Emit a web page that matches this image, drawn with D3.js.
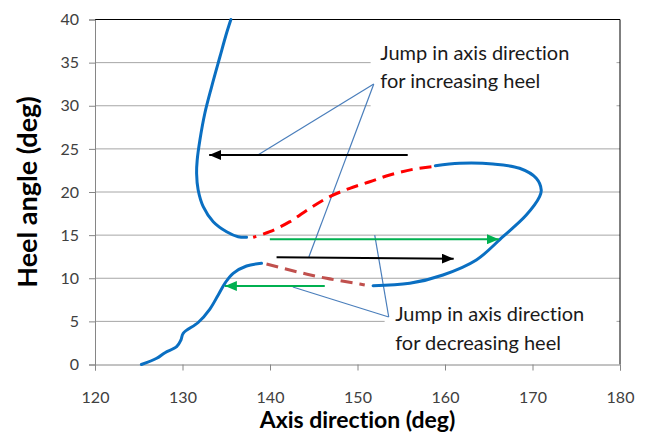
<!DOCTYPE html>
<html><head><meta charset="utf-8">
<script src="https://cdn.jsdelivr.net/npm/d3@7"></script>
<style>body{margin:0;background:#fff}svg{display:block}text{font-variant-ligatures:none;font-feature-settings:"liga" 0,"clig" 0}</style>
</head><body><svg id="chart" width="646" height="437"></svg>
<script>
// Axis ticks
const xTicks = [120, 130, 140, 150, 160, 170, 180];
const yTicks = [0, 5, 10, 15, 20, 25, 30, 35, 40];

// Equilibrium path [axis direction, heel angle], split into stable / unstable branches
const stableLow = [[125.3,0],[127.05,0.72],[128.0,1.37],[129.33,2.06],[129.82,2.84],[130.08,3.62],[131.79,4.87],[133.13,6.43],[134.1,8.1],[134.9,9.5],[135.79,10.57],[137.32,11.42],[139.03,11.73]];
const unstableLow = [[139.6,11.65],[143.03,10.76],[146.46,9.99],[150.26,9.33],[150.83,9.22]];
const stableLoop = [[151.78,9.14],[155.97,9.41],[159.77,10.38],[163.58,12.12],[166.62,14.82],[169.29,17.33],[170.81,19.46],[171.0,20.23],[170.43,21.59],[168.52,22.75],[165.48,23.25],[161.68,23.33],[158.9,23.05]];
const unstableHigh = [[158.45,22.93],[156.34,22.63],[153.68,21.97],[151.4,21.19],[149.12,20.43],[146.83,19.46],[144.55,18.11],[142.27,16.56],[139.98,15.4],[138.07,14.75]];
const stableHigh = [[137.32,14.75],[136.36,14.82],[135.04,15.4],[133.51,16.56],[132.37,18.3],[131.79,20.23],[131.61,22.17],[131.68,23.71],[131.99,26.03],[132.56,29.16],[133.32,32.17],[134.27,35.65],[135.04,38.43],[135.53,40]];

// Jumps in axis direction [start, end]
const jumpUpA = [[155.74,24.29],[133.05,24.29]];
const jumpUpB = [[140.75,12.43],[160.99,12.27]];
const jumpDownA = [[139.98,14.52],[166.16,14.52]];
const jumpDownB = [[146.26,9.10],[134.84,9.10]];

// Callout leaders [apex, target]
const calloutIncreasing = [[[151.86,32.52],[138.61,24.29]],[[151.86,32.52],[144.44,12.46]]];
const calloutDecreasing = [[[153.57,5.51],[142.61,8.99]],[[153.57,5.51],[151.97,15.01]]];

// Annotation text
const labelIncreasing = ["Jump in axis direction", "for increasing heel"];
const labelDecreasing = ["Jump in axis direction", "for decreasing heel"];

const svg = d3.select("#chart");
const m = {left: 95, top: 19.5, right: 620, bottom: 364.5};
const x = d3.scaleLinear().domain([120, 180]).range([m.left, m.right]);
const y = d3.scaleLinear().domain([0, 40]).range([m.bottom, m.top]);

const font = "Lato, 'Open Sans', sans-serif";

// Grid
svg.append("g").selectAll("line").data(yTicks.filter(d => d > 0 && d < 40)).join("line")
  .attr("x1", m.left).attr("x2", m.right)
  .attr("y1", d => y(d)).attr("y2", d => y(d))
  .attr("stroke", "#a6a6a6").attr("stroke-width", 1);

// Plot border (top, right)
svg.append("path")
  .attr("d", `M${m.left},${m.top}H${m.right}V${m.bottom}`)
  .attr("fill", "none").attr("stroke", "#000").attr("stroke-width", 1);

// Axes
const xAxis = svg.append("g").attr("transform", `translate(0,${m.bottom})`)
  .call(d3.axisBottom(x).tickValues(xTicks).tickSize(6).tickPadding(21).tickFormat(d3.format("d")));
const yAxis = svg.append("g").attr("transform", `translate(${m.left},0)`)
  .call(d3.axisLeft(y).tickValues(yTicks).tickSize(6).tickPadding(10).tickFormat(d3.format("d")));
[xAxis, yAxis].forEach(g => {
  g.select(".domain").attr("stroke", "#868686");
  g.selectAll(".tick line").attr("stroke", "#868686");
  g.selectAll(".tick text").attr("fill", "#404040").attr("font-family", font).attr("font-size", 16);
});

// Annotation boxes (white backgrounds over the grid)
svg.append("rect").attr("x", x(151.5)).attr("y", 35).attr("width", x(179.6) - x(151.5)).attr("height", 83).attr("fill", "#fff");
svg.append("rect").attr("x", x(153.1)).attr("y", 297).attr("width", x(179.6) - x(153.1)).attr("height", 64).attr("fill", "#fff");

// Callout leaders
const leaders = calloutIncreasing.concat(calloutDecreasing);
svg.append("g").selectAll("line").data(leaders).join("line")
  .attr("x1", d => x(d[0][0])).attr("y1", d => y(d[0][1]))
  .attr("x2", d => x(d[1][0])).attr("y2", d => y(d[1][1]))
  .attr("stroke", "#4a7ebb").attr("stroke-width", 1.2);

// Path curves
const line = d3.line().x(d => x(d[0])).y(d => y(d[1])).curve(d3.curveCatmullRom.alpha(0.5));
const blue = "#0a6fc2";
[stableLow, stableLoop, stableHigh].forEach(s => {
  svg.append("path").attr("d", line(s)).attr("fill", "none")
    .attr("stroke", blue).attr("stroke-width", 3).attr("stroke-linecap", "round");
});
svg.append("path").attr("d", line(unstableLow)).attr("fill", "none")
  .attr("stroke", "#c0504d").attr("stroke-width", 3).attr("stroke-dasharray", "12,7");
svg.append("path").attr("d", line(unstableHigh)).attr("fill", "none")
  .attr("stroke", "#ff0000").attr("stroke-width", 3).attr("stroke-dasharray", "12,7");

// Arrowheads
const defs = svg.append("defs");
[["head-black", "#000"], ["head-green", "#00b050"]].forEach(([id, c]) => {
  defs.append("marker").attr("id", id).attr("markerUnits", "userSpaceOnUse")
    .attr("viewBox", "0 0 12 10").attr("refX", 12).attr("refY", 5)
    .attr("markerWidth", 12).attr("markerHeight", 10).attr("orient", "auto")
    .append("path").attr("d", "M0,0L12,5L0,10Z").attr("fill", c);
});
const arrow = (pts, color, head) => svg.append("line")
  .attr("x1", x(pts[0][0])).attr("y1", y(pts[0][1]))
  .attr("x2", x(pts[1][0])).attr("y2", y(pts[1][1]))
  .attr("stroke", color).attr("stroke-width", 2).attr("marker-end", `url(#${head})`);
arrow(jumpUpA, "#000", "head-black");
arrow(jumpUpB, "#000", "head-black");
arrow(jumpDownA, "#00b050", "head-green");
arrow(jumpDownB, "#00b050", "head-green");

// Annotation text
const note = (lines, x0, y0, gap) => {
  const t = svg.append("text").attr("font-family", font).attr("font-size", 20).attr("fill", "#1a1a1a");
  lines.forEach((s, i) => t.append("tspan").attr("x", x0).attr("y", y0 + i * gap).text(s));
};
note(labelIncreasing, x(152.6), 60, 28);
note(labelDecreasing, x(154.3), 321, 29);

// Axis titles
svg.append("text").attr("x", x(150)).attr("y", 428).attr("text-anchor", "middle")
  .attr("font-family", font).attr("font-weight", 700).attr("font-size", 23).attr("fill", "#000")
  .text("Axis direction (deg)");
svg.append("text").attr("transform", `translate(37,${y(20)}) rotate(-90)`).attr("text-anchor", "middle")
  .attr("font-family", font).attr("font-weight", 700).attr("font-size", 27).attr("fill", "#000")
  .text("Heel angle (deg)");
</script></body></html>
